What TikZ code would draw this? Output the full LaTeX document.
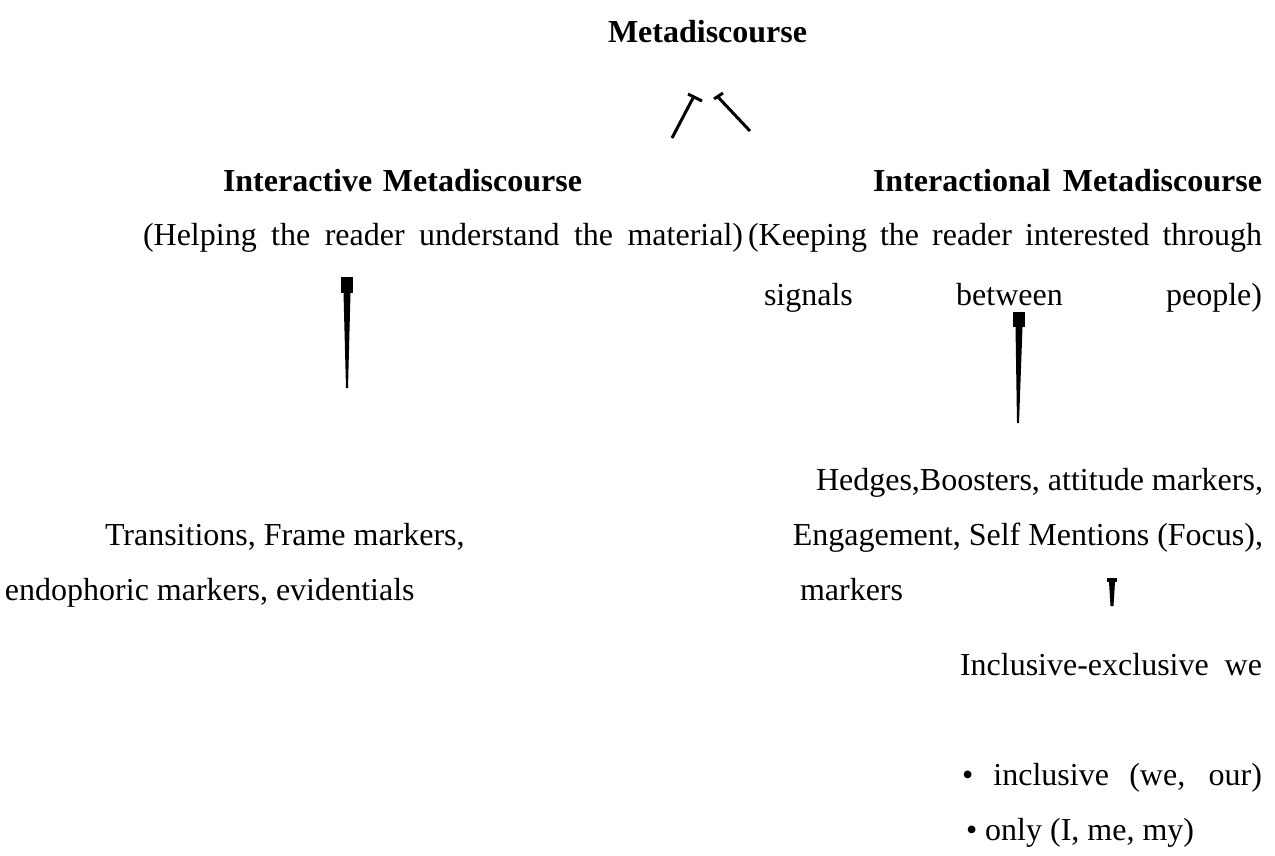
\documentclass[tikz,border=0pt]{standalone}
\usepackage{fontspec}
\setmainfont{Liberation Serif}
\begin{document}
\begin{tikzpicture}[x=1pt,y=-1pt,
  txt/.style={inner sep=0pt, outer sep=0pt, font=\fontsize{32}{38}\selectfont},
  hd/.style={inner sep=0pt, outer sep=0pt, font=\fontsize{32}{38}\selectfont\bfseries},
  conn/.style={line width=3pt, black},
  taper/.style={fill=black}]
\useasboundingbox (0,0) rectangle (1275,856);
% texts
\node[hd, anchor=base west] (meta) at (608,43) {Metadiscourse};
\node[hd, anchor=base west] (ia) at (223,192) {\makebox[359pt][s]{Interactive Metadiscourse}};
\node[hd, anchor=base west] (ial) at (873,192) {\makebox[389pt][s]{Interactional Metadiscourse}};
\node[txt, anchor=base west] (help) at (143,245) {\makebox[600pt][s]{(Helping the reader understand the material)}};
\node[txt, anchor=base west] (keep) at (748,245) {\makebox[514pt][s]{(Keeping the reader interested through}};
\node[txt, anchor=base west] (sig) at (764,305) {\makebox[498pt][s]{signals between people)}};
\node[txt, anchor=base east] (hedges) at (1263,490) {Hedges,Boosters, attitude markers,};
\node[txt, anchor=base east] (eng) at (1263,545) {Engagement, Self Mentions (Focus),};
\node[txt, anchor=base west] (mark) at (800,600) {markers};
\node[txt, anchor=base west] (trans) at (105,545) {Transitions, Frame markers,};
\node[txt, anchor=base west] (endo) at (5,600) {endophoric markers, evidentials};
\node[txt, anchor=base west] (incl) at (960,675) {\makebox[302pt][s]{Inclusive-exclusive we}};
\node[txt, anchor=base west] (b1) at (962,785) {\makebox[300pt][s]{• inclusive (we, our)}};
\node[txt, anchor=base west] (b2) at (966,840) {• only (I, me, my)};
% top connectors
\coordinate (l1) at (672,138); \coordinate (l2) at (693,98);
\coordinate (lb1) at (688,94); \coordinate (lb2) at (702,101);
\coordinate (r1) at (750,131); \coordinate (r2) at (718,97);
\coordinate (rb1) at (714,99); \coordinate (rb2) at (723,93);
\draw[conn] (l1) -- (l2);
\draw[conn] (lb1) -- (lb2);
\draw[conn] (r1) -- (r2);
\draw[conn] (rb1) -- (rb2);
% left tall connector
\fill[taper] (341,277) rectangle (353,293);
\fill[taper] (343.5,293) -- (350.5,293) -- (348,388) -- (346,388) -- cycle;
% right tall connector
\fill[taper] (1013,312) rectangle (1025,327);
\fill[taper] (1015.5,327) -- (1022.5,327) -- (1019,423) -- (1017,423) -- cycle;
% small connector
\fill[taper] (1107,578) rectangle (1117,582);
\fill[taper] (1109,582) -- (1115,582) -- (1113.5,606) -- (1110.5,606) -- cycle;
\end{tikzpicture}
\end{document}
